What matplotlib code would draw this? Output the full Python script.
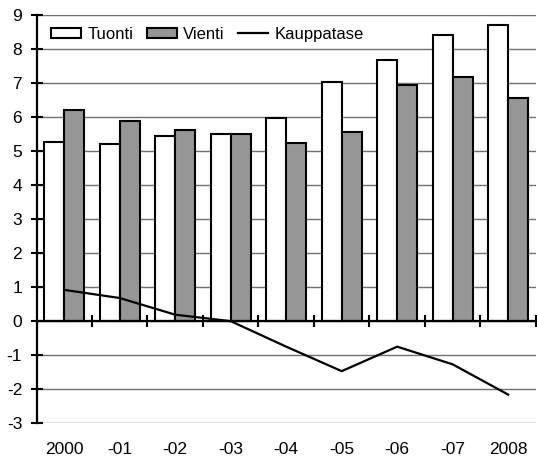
import matplotlib
matplotlib.use('Agg')
import matplotlib.pyplot as plt
import numpy as np

# Arvot luettu kuvasta (mrd. euroa)
vuodet = ['2000', '-01', '-02', '-03', '-04', '-05', '-06', '-07', '2008']
tuonti = [5.27, 5.20, 5.44, 5.50, 5.98, 7.04, 7.67, 8.41, 8.71]
vienti = [6.21, 5.90, 5.63, 5.50, 5.23, 5.56, 6.94, 7.17, 6.56]
kauppatase = [0.92, 0.68, 0.19, 0.00, -0.75, -1.47, -0.75, -1.27, -2.16]

plt.rcParams['font.family'] = ['Liberation Sans', 'DejaVu Sans']
plt.rcParams['axes.unicode_minus'] = False

fig = plt.figure(figsize=(5.37, 4.57), dpi=100)
ax = fig.add_axes([0.068, 0.074, 0.93, 0.893])

x = np.arange(len(vuodet))
w = 0.36
b1 = ax.bar(x - w / 2, tuonti, w, color='white', edgecolor='black', linewidth=1.5,
            label='Tuonti', zorder=3)
b2 = ax.bar(x + w / 2, vienti, w, color='#969696', edgecolor='black', linewidth=1.5,
            label='Vienti', zorder=3)
l1, = ax.plot(x, kauppatase, color='black', linewidth=1.6, label='Kauppatase', zorder=4)

ax.set_xlim(-0.5, len(vuodet) - 0.5)
ax.set_ylim(-3, 9)
ax.set_yticks(range(-3, 10))
ax.yaxis.grid(True, color='#707070', linewidth=1.0, zorder=0)
ax.set_axisbelow(True)

for s in ['top', 'right']:
    ax.spines[s].set_visible(False)
ax.spines['left'].set_linewidth(1.6)
ax.spines['bottom'].set_position(('data', 0))
ax.spines['bottom'].set_linewidth(1.6)
ax.spines['bottom'].set_zorder(5)

# rajat kategorioiden välissä
ax.set_xticks(x + 0.5)
ax.set_xticklabels([])
ax.tick_params(axis='x', direction='inout', length=8.6, width=1.5)
ax.tick_params(axis='y', direction='inout', length=8.6, width=1.5,
               labelsize=12.5, pad=6)

for i, v in enumerate(vuodet):
    ax.annotate(v, (i, -3), xytext=(0, -13.5), textcoords='offset points',
                ha='center', va='top', fontsize=12.5)

ax.legend([b1, b2, l1], ['Tuonti', 'Vienti', 'Kauppatase'],
          loc='upper left', bbox_to_anchor=(0.005, 1.0), ncol=3, frameon=False,
          fontsize=12, handlelength=1.8, handleheight=0.6,
          handletextpad=0.4, columnspacing=0.8, borderaxespad=0.3)

fig.savefig('out.png', dpi=100)
